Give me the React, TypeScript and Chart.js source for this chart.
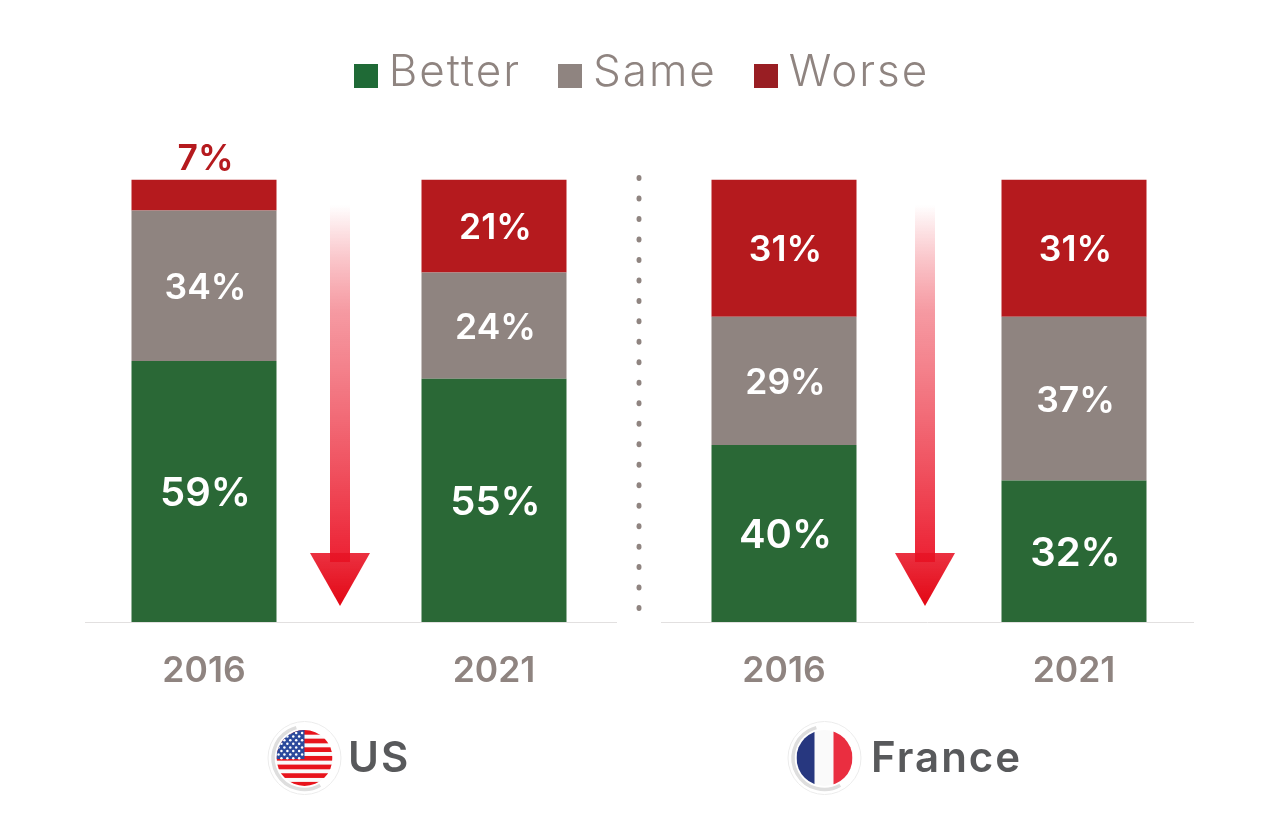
import React, { useEffect, useRef } from "react";
import { Chart, registerables } from "chart.js";

Chart.register(...registerables);

const years = ["2016", "2021", "2016", "2021"];
const better = [59, 55, 40, 32];
const same = [34, 24, 29, 37];
const worse = [7, 21, 31, 31];

const seriesNames = ["Better", "Same", "Worse"];
const barColors = ["#2a6836", "#8f8480", "#b51a1e"];
const legendColors = ["#1f6a36", "#8f8480", "#991e23"];
const labelSizes = [40, 35.5, 35.5];

const FONT = "Inter, 'Open Sans', sans-serif";
const GREY = "#8f8480";
const DARK = "#58595b";

function swatch(color: string) {
  const c = document.createElement("canvas");
  c.width = 24;
  c.height = 30;
  const x = c.getContext("2d")!;
  x.fillStyle = color;
  x.fillRect(0, 6, 24, 24);
  return c;
}

function arrow(ctx: CanvasRenderingContext2D, cx: number) {
  const g = ctx.createLinearGradient(0, 205, 0, 562);
  g.addColorStop(0, "rgba(236,28,45,0)");
  g.addColorStop(0.3, "rgba(238,70,85,0.55)");
  g.addColorStop(1, "rgba(236,32,50,1)");
  ctx.fillStyle = g;
  ctx.fillRect(cx - 10, 205, 20, 357);
  const h = ctx.createLinearGradient(0, 553, 0, 606);
  h.addColorStop(0, "rgba(232,20,38,0.88)");
  h.addColorStop(1, "rgba(227,6,19,1)");
  ctx.fillStyle = h;
  ctx.beginPath();
  ctx.moveTo(cx - 30, 553);
  ctx.lineTo(cx + 30, 553);
  ctx.lineTo(cx, 606);
  ctx.closePath();
  ctx.fill();
}

function badgeRing(ctx: CanvasRenderingContext2D, cx: number, cy: number) {
  ctx.strokeStyle = "#ececec";
  ctx.lineWidth = 1;
  ctx.beginPath();
  ctx.arc(cx, cy, 36.5, 0, Math.PI * 2);
  ctx.stroke();
  ctx.strokeStyle = "#dedede";
  ctx.lineWidth = 3.5;
  ctx.beginPath();
  ctx.arc(cx, cy, 31.5, (60 * Math.PI) / 180, (255 * Math.PI) / 180);
  ctx.stroke();
}

function usFlag(ctx: CanvasRenderingContext2D, cx: number, cy: number) {
  badgeRing(ctx, cx, cy);
  ctx.save();
  ctx.beginPath();
  ctx.arc(cx, cy, 28, 0, Math.PI * 2);
  ctx.clip();
  ctx.fillStyle = "#fafafa";
  ctx.fillRect(cx - 28, cy - 28, 56, 56);
  ctx.fillStyle = "#e8141c";
  for (let i = 0; i < 7; i++) ctx.fillRect(cx - 28, cy - 28 + i * 8.65, 56, 4.7);
  ctx.fillStyle = "#2c4a9c";
  ctx.fillRect(cx - 28, cy - 28, 28, 29);
  ctx.fillStyle = "#ffffff";
  for (let r = 0; r < 8; r++) {
    const cols = r % 2 ? 4 : 5;
    for (let k = 0; k < cols; k++) {
      ctx.beginPath();
      ctx.arc(cx - 26 + k * 5.9 + (r % 2 ? 2.95 : 0), cy - 25 + r * 3.6, 1.25, 0, Math.PI * 2);
      ctx.fill();
    }
  }
  ctx.restore();
}

function frFlag(ctx: CanvasRenderingContext2D, cx: number, cy: number) {
  badgeRing(ctx, cx, cy);
  ctx.save();
  ctx.beginPath();
  ctx.arc(cx, cy, 28, 0, Math.PI * 2);
  ctx.clip();
  ctx.fillStyle = "#fafafa";
  ctx.fillRect(cx - 28, cy - 28, 56, 56);
  ctx.fillStyle = "#27377f";
  ctx.fillRect(cx - 28, cy - 28, 18, 56);
  ctx.fillStyle = "#ea2e40";
  ctx.fillRect(cx + 9, cy - 28, 19, 56);
  ctx.restore();
}

const decorations = {
  id: "decorations",
  beforeInit(chart: any) {
    const legend = chart.legend;
    const fit = legend.fit;
    const draw = legend.draw;
    legend.fit = function () {
      chart.ctx.save();
      chart.ctx.letterSpacing = "2px";
      fit.call(this);
      chart.ctx.restore();
      this.height = 176.5;
    };
    legend.draw = function () {
      chart.ctx.save();
      chart.ctx.letterSpacing = "2px";
      chart.ctx.translate(8, 0);
      draw.call(this);
      chart.ctx.restore();
    };
  },
  beforeDatasetsDraw(chart: any) {
    const ctx = chart.ctx as CanvasRenderingContext2D;
    ctx.save();
    ctx.strokeStyle = "#e2e0e0";
    ctx.lineWidth = 1;
    const y = Math.round(chart.scales.y.getPixelForValue(0)) + 0.5;
    [[85, 617], [661, 1194]].forEach(([a, b]) => {
      ctx.beginPath();
      ctx.moveTo(a, y);
      ctx.lineTo(b, y);
      ctx.stroke();
    });
    ctx.restore();
  },
  afterDatasetsDraw(chart: any) {
    const ctx = chart.ctx as CanvasRenderingContext2D;
    ctx.save();
    chart.data.datasets.forEach((ds: any, di: number) => {
      const meta = chart.getDatasetMeta(di);
      meta.data.forEach((bar: any, i: number) => {
        const v = ds.data[i];
        const small = v < 10;
        ctx.font = `600 ${labelSizes[di]}px ${FONT}`;
        ctx.textAlign = "center";
        ctx.textBaseline = "middle";
        ctx.fillStyle = small ? barColors[2] : "#ffffff";
        const cy = small ? bar.y - 20 : (bar.y + bar.base) / 2 + 2.5;
        ctx.fillText(`${v}%`, bar.x + 1.5, cy);
      });
    });

    ctx.fillStyle = GREY;
    for (let i = 0; i < 22; i++) {
      ctx.beginPath();
      ctx.ellipse(639, 178 + i * 20.48, 2.5, 3, 0, 0, Math.PI * 2);
      ctx.fill();
    }

    arrow(ctx, 340);
    arrow(ctx, 925);
    usFlag(ctx, 304.5, 758);
    frFlag(ctx, 824.5, 758);

    ctx.fillStyle = DARK;
    ctx.font = `600 42px ${FONT}`;
    ctx.textAlign = "left";
    ctx.textBaseline = "middle";
    (ctx as any).letterSpacing = "2px";
    ctx.fillText("US", 348, 759);
    ctx.fillText("France", 871, 759);
    ctx.restore();
  },
};

export default function App() {
  const ref = useRef<HTMLCanvasElement>(null);

  useEffect(() => {
    const series = [better, same, worse];
    const chart = new Chart(ref.current!, {
      type: "bar",
      data: {
        labels: years,
        datasets: seriesNames.map((name, i) => ({
          label: name,
          data: series[i],
          backgroundColor: barColors[i],
          borderWidth: 0,
          categoryPercentage: 1,
          barPercentage: 0.5,
        })),
      },
      options: {
        responsive: false,
        animation: false,
        layout: { padding: { left: 59, right: 61, top: 3, bottom: 0 } },
        scales: {
          x: {
            stacked: true,
            grid: { display: false },
            border: { display: false },
            ticks: {
              color: GREY,
              padding: 20,
              font: { family: FONT, size: 35.5, weight: 600 },
              maxRotation: 0,
            },
            afterFit: (s: any) => {
              s.height = 209;
            },
          },
          y: { stacked: true, display: false, min: 0, max: 100 },
        },
        plugins: {
          tooltip: { enabled: false },
          legend: {
            position: "top",
            labels: {
              color: GREY,
              font: { family: FONT, size: 44, weight: 300 },
              usePointStyle: true,
              boxWidth: 2,
              padding: 48,
              generateLabels: () =>
                seriesNames.map((name, i) => ({
                  text: name,
                  fontColor: GREY,
                  pointStyle: swatch(legendColors[i]),
                  datasetIndex: i,
                  hidden: false,
                  lineWidth: 0,
                })),
            },
          },
        },
      },
      plugins: [decorations],
    } as any);
    return () => chart.destroy();
  }, []);

  return (
    <div style={{ position: "absolute", left: 0, top: 0, width: 1280, height: 831, background: "#fff" }}>
      <canvas ref={ref} width={1280} height={831} style={{ display: "block" }} />
    </div>
  );
}
